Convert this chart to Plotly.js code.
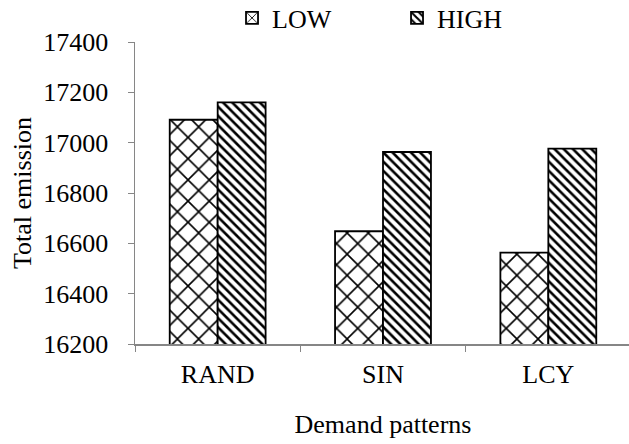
<!DOCTYPE html>
<html>
<head>
<meta charset="utf-8">
<script src="https://cdn.plot.ly/plotly-3.0.1.min.js"></script>
<style>html,body{margin:0;padding:0;background:#fff;overflow:hidden;}#chart{width:631px;height:444px;}</style>
</head>
<body>
<div id="chart"></div>
<script>
const categories = ["RAND", "SIN", "LCY"];
const lowValues = [17091, 16648, 16563];
const highValues = [17160, 16963, 16976];
const seriesNames = ["LOW", "HIGH"];
const yTickValues = [16200, 16400, 16600, 16800, 17000, 17200, 17400];

const font = {family: "Liberation Serif", size: 26, color: "#000"};

const traces = [
  {
    type: "bar", name: seriesNames[0], x: categories, y: lowValues,
    marker: {color: "#fff", line: {color: "#000", width: 1.8},
      pattern: {shape: "x", size: 15, solidity: 0.2, fgcolor: "#000", bgcolor: "#fff", fillmode: "replace"}}
  },
  {
    type: "bar", name: seriesNames[1], x: categories, y: highValues,
    marker: {color: "#fff", line: {color: "#000", width: 1.8},
      pattern: {shape: "\\", size: 6.5, solidity: 0.4, fgcolor: "#000", bgcolor: "#fff", fillmode: "replace"}}
  }
];

const layout = {
  width: 631, height: 444,
  margin: {l: 135, r: 0, t: 42, b: 100},
  paper_bgcolor: "#fff", plot_bgcolor: "#fff",
  font: font,
  barmode: "group", bargap: 0.42, bargroupgap: 0,
  showlegend: true,
  legend: {orientation: "h", x: 0.3677, xanchor: "left", xref: "container",
    y: 0.9595, yanchor: "middle", yref: "container",
    font: font, traceorder: "normal", itemwidth: 30, entrywidth: 120, entrywidthmode: "pixels"},
  xaxis: {
    showline: true, linecolor: "#868686", linewidth: 1.5,
    ticks: "outside", ticklen: 6, tickcolor: "#868686", tickson: "boundaries",
    showgrid: false, tickfont: font, ticklabelstandoff: 6,
    title: {text: "Demand patterns", font: font, standoff: 27}
  },
  yaxis: {
    range: [16200, 17400], tickvals: yTickValues, ticktext: yTickValues.map(String),
    showline: true, linecolor: "#868686", linewidth: 1.5,
    ticks: "outside", ticklen: 6, tickcolor: "#868686",
    showgrid: false, zeroline: false, tickfont: font, ticklabelstandoff: 14,
    title: {text: "Total emission", font: font, standoff: 4}
  }
};

Plotly.newPlot("chart", traces, layout, {displayModeBar: false, staticPlot: true});
</script>
</body>
</html>
